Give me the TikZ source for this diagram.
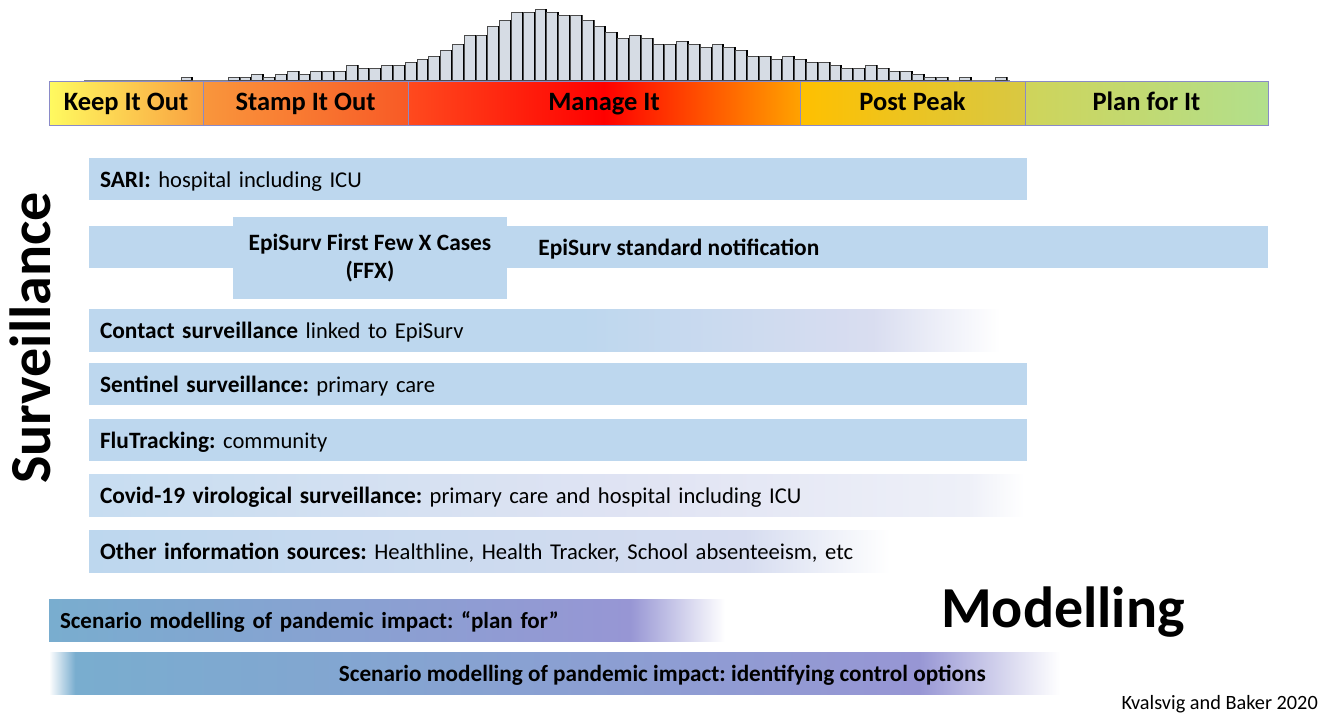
\documentclass[tikz,border=0pt]{standalone}
\usepackage{fontspec}
\setmainfont{Carlito}
\usetikzlibrary{positioning}
\frenchspacing

\definecolor{rowblue}{HTML}{BDD7EE}
\definecolor{rowlav}{HTML}{D9DDF0}
\definecolor{palerow}{HTML}{EEF0F8}
\definecolor{modblue}{HTML}{79ADCF}
\definecolor{modpurple}{HTML}{9796D4}
\definecolor{barfill}{HTML}{D6DCE4}
\definecolor{phaseline}{HTML}{8A8AC8}

% fades for the rows that run out
\pgfdeclarehorizontalshading{contactfade}{100bp}{color(0bp)=(rowblue); color(25bp)=(rowblue); color(52bp)=(rowblue); color(68bp)=(rowlav); color(75bp)=(white); color(100bp)=(white)}
\pgfdeclarehorizontalshading{covidfade}{100bp}{color(0bp)=(rowblue!85!white); color(25bp)=(rowblue!85!white); color(55bp)=(rowlav!80!white); color(72bp)=(palerow); color(75bp)=(white); color(100bp)=(white)}
\pgfdeclarehorizontalshading{otherfade}{100bp}{color(0bp)=(rowblue); color(25bp)=(rowblue); color(66bp)=(rowlav!90!rowblue); color(75bp)=(white); color(100bp)=(white)}
\pgfdeclarehorizontalshading{planfade}{100bp}{color(0bp)=(modblue); color(25bp)=(modblue); color(68bp)=(modpurple); color(75bp)=(white); color(100bp)=(white)}
\pgfdeclarehorizontalshading{ctrlfade}{100bp}{color(0bp)=(white); color(25bp)=(white); color(26.3bp)=(modblue); color(68bp)=(modpurple); color(75bp)=(white); color(100bp)=(white)}

% bold lead of a row
\newcommand{\rowhead}[1]{{\fontsize{23.4}{26}\selectfont\bfseries #1}}

\begin{document}
\begin{tikzpicture}[x=1pt, y=-1pt, node distance=0pt,
    phase/.style={draw=phaseline, line width=1pt, minimum height=44pt, outer sep=0pt, inner sep=0pt, text height=14pt, text depth=0pt, font=\fontsize{26.5}{28}\selectfont\bfseries},
    rowbar/.style={fill=rowblue, minimum height=42pt, inner xsep=11pt, inner ysep=0pt, outer sep=0pt, text height=17.4pt, text depth=0pt, align=left, anchor=west, font=\fontsize{22.6}{26}\selectfont},
    modbar/.style={minimum height=42pt, inner xsep=11pt, inner ysep=0pt, outer sep=0pt, text height=17.4pt, text depth=0pt, align=left, anchor=west, font=\fontsize{23}{26}\selectfont\bfseries},
    histbar/.style={fill=barfill, draw=black!70, line width=0.8pt}]
        \useasboundingbox (0,0) rectangle (1323,715);

        % Epidemic curve
        \draw[gray, line width=0.8pt] (84,80) -- (1010,80);
        \foreach \h [count=\i from 0] in {3,0,0,0,3,3,6,3,6,9,6,9,9,9,15,12,12,15,15,18,21,24,30,36,45,45,54,60,68,68,71,68,65,65,60,54,48,42,45,42,36,36,39,36,33,36,33,30,24,24,21,24,21,18,18,15,12,12,15,12,9,9,6,3,3,0,3,0,0,3} {
            \ifnum\h>0
                \draw[histbar] ({181+\i*11.8},80) rectangle ++(11.8,-\h);
                \draw[black, line width=1.6pt] ({181+\i*11.8+11.2},80) -- ++(0,-\h);
            \fi
        }

        % Phases
        \node[phase, minimum width=154pt, left color={rgb,255:red,255;green,250;blue,96}, right color={rgb,255:red,249;green,160;blue,64}] (keep) at (126,103) {Keep It Out};
        \node[phase, minimum width=205pt, left color={rgb,255:red,249;green,150;blue,60}, right color={rgb,255:red,248;green,90;blue,38}, right=of keep] (stamp) {Stamp It Out};
        \node[phase, minimum width=392pt, left color={rgb,255:red,255;green,74;blue,30}, right color={rgb,255:red,255;green,162;blue,0}, middle color=red, right=of stamp] (manage) {Manage It};
        \node[phase, minimum width=225pt, left color={rgb,255:red,255;green,192;blue,0}, right color={rgb,255:red,216;green,200;blue,67}, right=of manage] (post) {Post Peak};
        \node[phase, minimum width=243pt, left color={rgb,255:red,207;green,212;blue,90}, right color={rgb,255:red,178;green,223;blue,140}, right=of post] (plan) {Plan for It};

        % Surveillance rows
        \node[font=\fontsize{58}{60}\selectfont\bfseries, rotate=90] (survtitle) at (30,338) {Surveillance};

        \node[rowbar, text width=916pt] (sari) at (89,179) {\rowhead{SARI:} hospital including ICU};
        \node[rowbar, text width=1157pt] (episurv) at (89,247) {};
        \node[fill=rowblue, minimum width=274pt, minimum height=82pt, inner sep=0pt, align=center, font=\fontsize{23.4}{28}\selectfont\bfseries] (ffx) at (370,258) {EpiSurv First Few X Cases\\(FFX)};
        \node[anchor=west, xshift=31pt, inner sep=0pt, text height=17.4pt, text depth=0pt, font=\fontsize{23.4}{26}\selectfont\bfseries] (stdtext) at (ffx.east |- episurv) {EpiSurv standard notification};
        \node[rowbar, text width=889pt, fill=none, shading=contactfade] (contact) at (89,330) {\rowhead{Contact surveillance} linked to EpiSurv};
        \node[rowbar, text width=916pt] (sentinel) at (89,384) {\rowhead{Sentinel surveillance:} primary care};
        \node[rowbar, text width=916pt] (flu) at (89,440) {\rowhead{FluTracking:} community};
        \node[rowbar, text width=913pt, fill=none, shading=covidfade] (covid) at (89,495) {\rowhead{Covid-19 virological surveillance:} primary care and hospital including ICU};
        \node[rowbar, text width=779pt, fill=none, shading=otherfade] (other) at (89,551) {\rowhead{Other information sources:} Healthline, Health Tracker, School absenteeism, etc};

        % Modelling rows
        \node[modbar, text width=654pt, shading=planfade] (planfor) at (49,620) {Scenario modelling of pandemic impact: “plan for”};
        \node[modbar, text width=989pt, shading=ctrlfade] (ctrlbar) at (49,673) {};
        \node[anchor=east, xshift=-74pt, inner sep=0pt, text height=17.4pt, text depth=0pt, font=\fontsize{23.2}{26}\selectfont\bfseries] (ctrltext) at (ctrlbar.east) {Scenario modelling of pandemic impact: identifying control options};
        \node[font=\fontsize{58}{60}\selectfont\bfseries] (modtitle) at (1063,612) {Modelling};

        \node[anchor=east, inner sep=0pt, font=\fontsize{20.3}{22}\selectfont] (credit) at (1318,704) {Kvalsvig and Baker 2020};
    \end{tikzpicture}
\end{document}
